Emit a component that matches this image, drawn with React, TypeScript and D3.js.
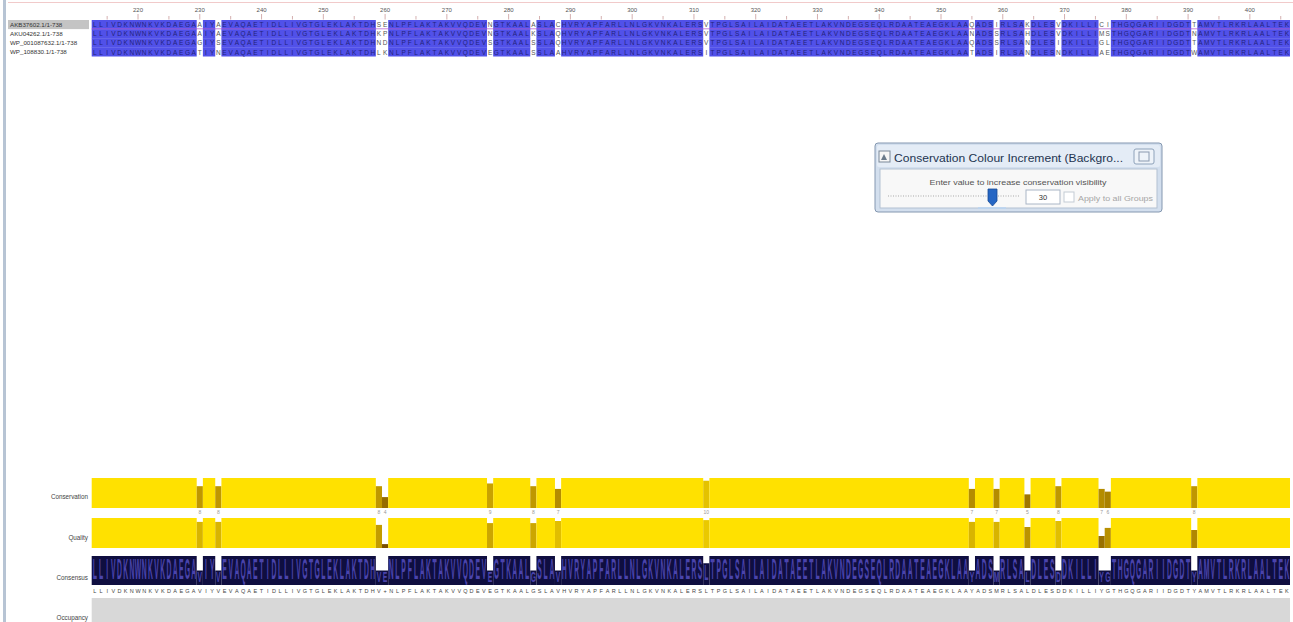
import React, { useEffect, useRef } from "react";
import * as d3 from "d3";

const width = 1293;
const height = 622;

// columns visible in the alignment window
const firstColumn = 213;
const lastColumn = 406;
const rulerTicks = [220, 230, 240, 250, 260, 270, 280, 290, 300, 310, 320, 330, 340, 350, 360, 370, 380, 390, 400];

const sequenceNames = ["AKB37602.1/1-738", "AKU04262.1/1-738", "WP_001087632.1/1-738", "WP_108830.1/1-738"];

// consensus, one chunk per ruler decade (213-219, 220-229, ... 400-406)
const consensusChunks = [
  "LLIVDKN",
  "WNKVKDAEGA",
  "VIYVEVAQAE",
  "TIDLLIVGTG",
  "LEKLAKTDHV",
  "+NLPFLAKTA",
  "KVVQDEVEGT",
  "KAALGSLAVH",
  "VRYAPFARLL",
  "NLGKVNKALE",
  "RSLTPGLSAI",
  "LAIDATAEET",
  "LAKVNDEGSE",
  "QLRDAATEAE",
  "GKLAAYADSM",
  "RLSALDLESD",
  "DKILLIYGTH",
  "GQGARIIDGD",
  "TYAMVTLRKR",
  "LAALTEK",
];

// columns that are not fully conserved
const variableColumns = [230, 233, 259, 260, 277, 284, 288, 312, 355, 359, 364, 369, 376, 377, 391];
const variableResidues = ["AAGT", "AASN", "SKNL", "EPDK", "NNSE", "AKSS", "CQQA", "VVVI", "QNQT", "ISSI", "KHNN", "VVIN", "CMGA", "ISLE", "TNTW"];
const conservationScores = [8, 8, 8, 4, 9, 8, 7, 10, 7, 7, 5, 8, 7, 6, 8];
const qualityScores = [0.87, 0.87, 0.77, 0.13, 0.83, 0.83, 0.9, 0.93, 0.87, 0.87, 0.7, 0.9, 0.4, 0.67, 0.6];
const consensusPercents = [50, 50, 50, 50, 50, 50, 50, 75, 50, 50, 50, 50, 50, 50, 50];

const annotationLabels = ["Conservation", "Quality", "Consensus", "Occupancy"];

const FONT = "'Liberation Sans', Arial, sans-serif";

type Run = { start: number; end: number; value: number };

// merge neighbouring columns with the same value, so bars have no seams
const toRuns = (cols: number[], value: (c: number) => number): Run[] => {
  const out: Run[] = [];
  cols.forEach((c) => {
    const v = value(c);
    const last = out[out.length - 1];
    if (last && last.value === v && last.end === c - 1) last.end = c;
    else out.push({ start: c, end: c, value: v });
  });
  return out;
};

const App = () => {
  const chartRef = useRef<SVGSVGElement | null>(null);

  useEffect(() => {
    const svg = d3.select(chartRef.current);
    svg.selectAll("*").remove();

    const consensus = consensusChunks.join("");
    const columns = d3.range(firstColumn, lastColumn + 1);

    const x = d3
      .scaleBand<number>()
      .domain(columns)
      .range([91.7, 1290]);
    const bw = x.bandwidth();
    const cx = (c: number) => (x(c) as number) + bw / 2;
    const runX = (r: Run) => x(r.start) as number;
    const runW = (r: Run) => (x(r.end) as number) + bw - (x(r.start) as number);

    const varIndex = new Map(variableColumns.map((c, i) => [c, i]));

    const rowY = d3.scaleBand<number>().domain(d3.range(4)).range([20, 56.5]);

    const consColour = d3
      .scaleLinear<string>()
      .domain([0, 9, 11])
      .range(["#6b4100", "#c9a200", "#ffe100"]);
    const qualColour = d3
      .scaleLinear<string>()
      .domain([0, 0.82, 1])
      .range(["#6b4100", "#c9a200", "#ffe100"]);

    svg.append("rect").attr("width", width).attr("height", height).attr("fill", "#fff");

    // left frame
    svg.append("rect").attr("x", 3).attr("y", 0).attr("width", 3).attr("height", height).attr("fill", "#b7c4d4");

    // ruler
    svg.append("line").attr("x1", 8).attr("x2", width).attr("y1", 2.5).attr("y2", 2.5)
      .attr("stroke", "#f1caca").attr("stroke-width", 1);
    const ruler = svg.append("g");
    ruler
      .selectAll("line")
      .data(columns.filter((c) => c % 5 === 0))
      .enter()
      .append("line")
      .attr("x1", (d) => cx(d))
      .attr("x2", (d) => cx(d))
      .attr("y1", (d) => (d % 10 === 0 ? 14 : 16))
      .attr("y2", 19.5)
      .attr("stroke", "#c99a9a")
      .attr("stroke-width", 0.8);
    ruler
      .selectAll("text")
      .data(rulerTicks)
      .enter()
      .append("text")
      .attr("x", (d) => cx(d))
      .attr("y", 12)
      .attr("text-anchor", "middle")
      .attr("font-family", FONT)
      .attr("font-size", 6)
      .attr("fill", "#555")
      .text((d) => d);

    // sequence names
    svg.append("rect").attr("x", 8).attr("y", rowY(0) as number).attr("width", 81).attr("height", rowY.bandwidth())
      .attr("fill", "#c4c4c4");
    svg
      .append("g")
      .selectAll("text")
      .data(sequenceNames)
      .enter()
      .append("text")
      .attr("x", 10)
      .attr("y", (d, i) => (rowY(i) as number) + rowY.bandwidth() - 2.2)
      .attr("font-family", FONT)
      .attr("font-size", 6.2)
      .attr("fill", "#333")
      .text((d) => d);

    // alignment: coloured runs, then residues
    const aln = svg.append("g");
    const colourRuns = toRuns(columns, (c) => (varIndex.has(c) ? 0 : 1)).filter((r) => r.value === 1);
    sequenceNames.forEach((_, row) => {
      aln
        .append("g")
        .selectAll("rect")
        .data(colourRuns)
        .enter()
        .append("rect")
        .attr("x", runX)
        .attr("y", rowY(row) as number)
        .attr("width", runW)
        .attr("height", rowY.bandwidth() + (row < 3 ? 0.3 : 0))
        .attr("fill", "#5151e9");
    });
    const cells: { row: number; col: number; res: string; gap: boolean }[] = [];
    sequenceNames.forEach((_, row) => {
      columns.forEach((col, k) => {
        const vi = varIndex.get(col);
        const res = vi === undefined ? consensus[k] : variableResidues[vi][row];
        cells.push({ row, col, res, gap: vi !== undefined });
      });
    });
    aln
      .selectAll("text")
      .data(cells)
      .enter()
      .append("text")
      .attr("x", (d) => cx(d.col))
      .attr("y", (d) => (rowY(d.row) as number) + rowY.bandwidth() - 2)
      .attr("text-anchor", "middle")
      .attr("font-family", FONT)
      .attr("font-size", 6.5)
      .attr("fill", (d) => (d.gap ? "#555" : "#23237a"))
      .text((d) => d.res);
    svg.append("line").attr("x1", 91.7).attr("x2", 1290).attr("y1", 28.8).attr("y2", 28.8)
      .attr("stroke", "#b45ad0").attr("stroke-width", 0.9).attr("opacity", 0.8);

    // annotation rows
    const consTop = 478, consBottom = 508;
    const qualTop = 518, qualBottom = 548;
    const seqTop = 556, seqBottom = 585;

    const consH = d3.scaleLinear().domain([0, 11]).range([0, consBottom - consTop]);
    const qualH = d3.scaleLinear().domain([0, 1]).range([0, qualBottom - qualTop]);
    const pctH = d3.scaleLinear().domain([0, 100]).range([0, seqBottom - seqTop]);

    const consOf = (c: number) => (varIndex.has(c) ? conservationScores[varIndex.get(c) as number] : 11);
    const qualOf = (c: number) => (varIndex.has(c) ? qualityScores[varIndex.get(c) as number] : 1);
    const pctOf = (c: number) => (varIndex.has(c) ? consensusPercents[varIndex.get(c) as number] : 100);

    const ann = svg.append("g");
    ann
      .append("g")
      .selectAll("rect")
      .data(toRuns(columns, consOf))
      .enter()
      .append("rect")
      .attr("x", runX)
      .attr("y", (d) => consBottom - consH(d.value))
      .attr("width", runW)
      .attr("height", (d) => consH(d.value))
      .attr("fill", (d) => consColour(d.value));
    ann
      .append("g")
      .selectAll("text")
      .data(columns.filter((c) => consOf(c) < 11))
      .enter()
      .append("text")
      .attr("x", (d) => cx(d))
      .attr("y", 514)
      .attr("text-anchor", "middle")
      .attr("font-family", FONT)
      .attr("font-size", 5)
      .attr("fill", "#999")
      .text((d) => consOf(d));
    ann
      .append("g")
      .selectAll("rect")
      .data(toRuns(columns, qualOf))
      .enter()
      .append("rect")
      .attr("x", runX)
      .attr("y", (d) => qualBottom - qualH(d.value))
      .attr("width", runW)
      .attr("height", (d) => qualH(d.value))
      .attr("fill", (d) => qualColour(d.value));

    // consensus histogram with logo
    ann
      .append("g")
      .selectAll("rect")
      .data(toRuns(columns, pctOf))
      .enter()
      .append("rect")
      .attr("x", runX)
      .attr("y", (d) => seqBottom - pctH(d.value))
      .attr("width", runW)
      .attr("height", (d) => pctH(d.value))
      .attr("fill", "#0f0e40");
    ann
      .append("g")
      .selectAll("text")
      .data(columns)
      .enter()
      .append("text")
      .attr("transform", (c) => {
        const h = pctH(pctOf(c));
        return `translate(${cx(c)},${seqBottom - h * 0.22}) scale(0.85,${(h * 0.74) / 5.7})`;
      })
      .attr("text-anchor", "middle")
      .attr("font-family", FONT)
      .attr("font-weight", "bold")
      .attr("font-size", 8)
      .attr("fill", "#4a44ac")
      .text((c, k) => (consensus[k] === "+" ? variableResidues[varIndex.get(c) as number][0] : consensus[k]));
    ann
      .append("g")
      .selectAll("text")
      .data(columns)
      .enter()
      .append("text")
      .attr("x", (c) => cx(c))
      .attr("y", 593)
      .attr("text-anchor", "middle")
      .attr("font-family", FONT)
      .attr("font-size", 5.5)
      .attr("fill", "#444")
      .text((c, k) => consensus[k]);

    // occupancy
    ann.append("rect").attr("x", 91.7).attr("y", 598).attr("width", 1290 - 91.7).attr("height", height - 598)
      .attr("fill", "#d8d8d8");

    const labelY = [499, 540, 580, 620];
    svg
      .append("g")
      .selectAll("text")
      .data(annotationLabels)
      .enter()
      .append("text")
      .attr("x", 88)
      .attr("y", (d, i) => labelY[i])
      .attr("text-anchor", "end")
      .attr("font-family", FONT)
      .attr("font-size", 6.3)
      .attr("fill", "#444")
      .text((d) => d);

    // conservation increment dialog
    const dlg = svg.append("g");
    dlg.append("rect").attr("x", 875).attr("y", 143).attr("width", 287).attr("height", 69).attr("rx", 3)
      .attr("fill", "#d3dfee").attr("stroke", "#8497b0");
    dlg.append("rect").attr("x", 877).attr("y", 145).attr("width", 283).attr("height", 22).attr("rx", 2)
      .attr("fill", "#e4ecf6");
    dlg.append("rect").attr("x", 879).attr("y", 151).attr("width", 11).attr("height", 11)
      .attr("fill", "#f6f6f6").attr("stroke", "#7a8898");
    dlg.append("path").attr("d", "M881,160 L884,154 L887,160 Z").attr("fill", "#6a7a8a");
    dlg.append("text").attr("x", 894).attr("y", 162).attr("font-family", FONT).attr("font-size", 11.5)
      .attr("fill", "#1e3450").attr("textLength", 229).attr("lengthAdjust", "spacingAndGlyphs")
      .text("Conservation Colour Increment (Backgro...");
    dlg.append("rect").attr("x", 1134).attr("y", 149).attr("width", 20).attr("height", 15).attr("rx", 2)
      .attr("fill", "#eef3f9").attr("stroke", "#8ea2ba");
    dlg.append("rect").attr("x", 1139).attr("y", 152).attr("width", 10).attr("height", 9)
      .attr("fill", "none").attr("stroke", "#8a9ab0");
    dlg.append("rect").attr("x", 880).attr("y", 169).attr("width", 277).attr("height", 39)
      .attr("fill", "#f8f8f8").attr("stroke", "#b3c1d2");
    dlg.append("text").attr("x", 1018).attr("y", 185).attr("text-anchor", "middle").attr("font-family", FONT)
      .attr("font-size", 7.5).attr("fill", "#555").attr("textLength", 177).attr("lengthAdjust", "spacingAndGlyphs")
      .text("Enter value to increase conservation visibility");
    dlg.append("line").attr("x1", 888).attr("x2", 1020).attr("y1", 196).attr("y2", 196)
      .attr("stroke", "#a9a9a9").attr("stroke-dasharray", "1,1.5");
    dlg.append("line").attr("x1", 978).attr("x2", 1006).attr("y1", 208).attr("y2", 208)
      .attr("stroke", "#b9d4f2").attr("stroke-width", 1.5);
    dlg.append("path").attr("d", "M988,189 L997,189 L997,201 L992.5,206 L988,201 Z")
      .attr("fill", "#2566c4").attr("stroke", "#174a94").attr("stroke-width", 0.8);
    dlg.append("rect").attr("x", 1026).attr("y", 190).attr("width", 34).attr("height", 14)
      .attr("fill", "#fff").attr("stroke", "#aab6c6");
    dlg.append("text").attr("x", 1043).attr("y", 200).attr("text-anchor", "middle").attr("font-family", FONT)
      .attr("font-size", 7.5).attr("fill", "#333").text("30");
    dlg.append("rect").attr("x", 1064).attr("y", 192).attr("width", 10).attr("height", 10)
      .attr("fill", "#fff").attr("stroke", "#c3cbd4");
    dlg.append("text").attr("x", 1078).attr("y", 201).attr("font-family", FONT)
      .attr("font-size", 7.5).attr("fill", "#a6a6a6").attr("textLength", 75).attr("lengthAdjust", "spacingAndGlyphs")
      .text("Apply to all Groups");
  }, []);

  return (
    <svg
      ref={chartRef}
      width={width}
      height={height}
      style={{ position: "absolute", left: 0, top: 0, display: "block" }}
    ></svg>
  );
};

export default App;
